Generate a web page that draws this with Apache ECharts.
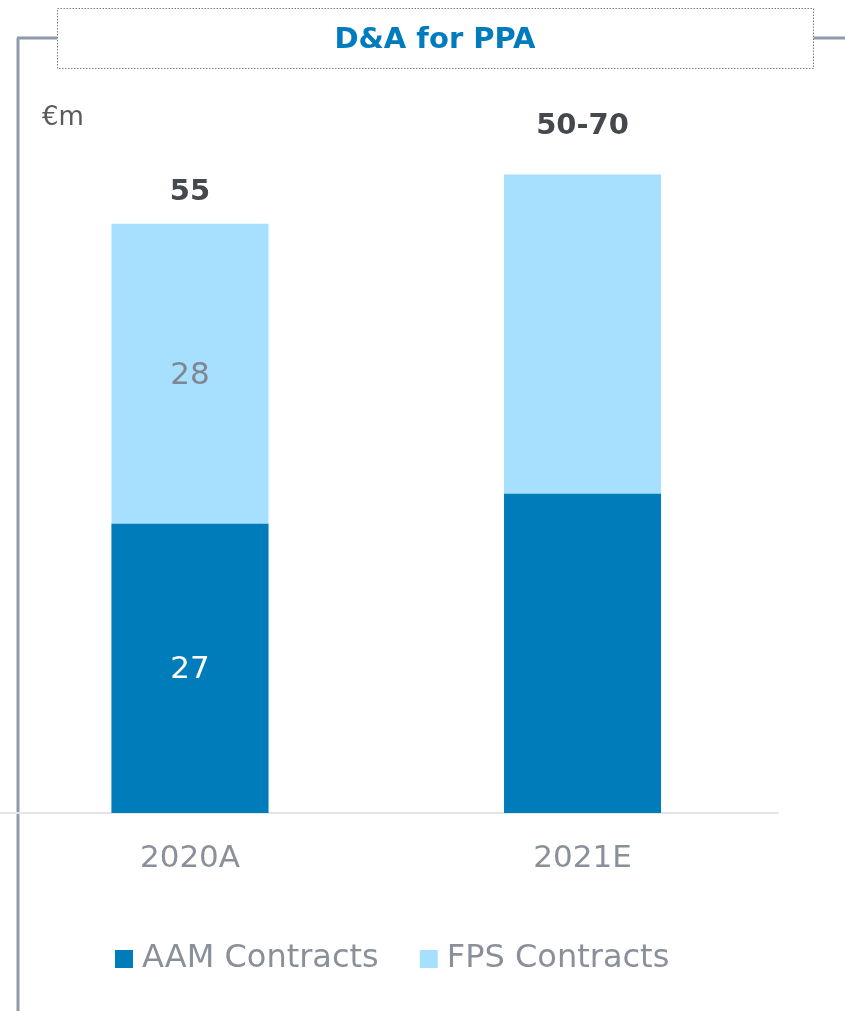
<!DOCTYPE html>
<html><head><meta charset="utf-8">
<script src="https://cdn.jsdelivr.net/npm/echarts@6/dist/echarts.min.js"></script>
<style>html,body{margin:0;padding:0;background:#fff}#c{width:845px;height:1011px}</style>
</head><body><div id="c"></div>
<script>
const categories = ['2020A', '2021E'];
const aamValues = [27, 29.8];
const fpsValues = [28, 29.8];
const aamLabels = ['27', ''];
const fpsLabels = ['28', ''];
const topLabels = ['55', '50-70'];
const totals = aamValues.map((v, i) => v + fpsValues[i]);
const topOffsets = [-31, -48];

const chart = echarts.init(document.getElementById('c'));
const F = 'DejaVu Sans, Verdana, sans-serif';
chart.setOption({
  animation: false,
  textStyle: { fontFamily: F },
  graphic: [
    { type: 'line', shape: { x1: 18, y1: 38, x2: 18, y2: 1011 }, style: { stroke: '#8e9aab', lineWidth: 3 } },
    { type: 'line', shape: { x1: 17, y1: 38, x2: 57, y2: 38 }, style: { stroke: '#8e9aab', lineWidth: 3 } },
    { type: 'line', shape: { x1: 813, y1: 38, x2: 845, y2: 38 }, style: { stroke: '#8e9aab', lineWidth: 3 } },
    { type: 'rect', shape: { x: 57.5, y: 8.5, width: 756, height: 60 }, style: { fill: '#fff', stroke: '#7a7f88', lineWidth: 1, lineDash: [1.5, 1.5] } },
    { type: 'text', x: 435, y: 40, style: { text: 'D&A for PPA', fill: '#007bbd', font: 'bold 29px ' + F, align: 'center', verticalAlign: 'middle' } },
    { type: 'text', x: 42, y: 118, style: { text: '€m', fill: '#5a5a5a', font: '26px ' + F, align: 'left', verticalAlign: 'middle' } }
  ],
  legend: {
    left: 115, top: 943, padding: 0, itemWidth: 18, itemHeight: 18, itemGap: 41,
    icon: 'rect',
    textStyle: { color: '#8a9099', fontSize: 32, fontFamily: F, padding: [0, 0, 0, 4] },
    data: ['AAM Contracts', 'FPS Contracts']
  },
  grid: { left: 0, width: 778, top: 63, height: 750 },
  xAxis: {
    type: 'value', min: -0.484, max: 1.498,
    splitLine: { show: false },
    axisLine: { show: true, onZero: false, lineStyle: { color: '#e2e4e6', width: 2 } },
    axisTick: { show: false },
    axisLabel: { color: '#8a9099', fontSize: 31, fontFamily: F, margin: 30,
      customValues: categories.map((c, i) => i),
      formatter: v => categories[Math.round(v)] }
  },
  yAxis: { type: 'value', min: 0, max: 70, show: false, splitLine: { show: false } },
  series: [
    {
      // FPS segment sits on top of AAM: drawn from 0 to the running total, AAM drawn over it
      name: 'FPS Contracts', type: 'bar', barWidth: 157, barGap: '-100%', z: 2,
      data: totals.map((t, i) => [i, t]),
      itemStyle: { color: '#a6e0fe' }
    },
    {
      name: 'AAM Contracts', type: 'bar', barWidth: 157, barGap: '-100%', z: 3,
      data: aamValues.map((v, i) => [i, v]),
      itemStyle: { color: '#007cba' },
      label: { show: true, position: 'inside', offset: [0, 2], color: '#fff', fontSize: 31, fontFamily: F,
        formatter: p => aamLabels[p.dataIndex] }
    },
    {
      type: 'scatter', symbolSize: 0, silent: true, z: 5,
      itemStyle: { opacity: 1 },
      data: fpsValues.map((v, i) => [i, aamValues[i] + v / 2]),
      label: { show: true, position: 'inside', offset: [0, 2], color: '#7f8691', fontSize: 31, fontFamily: F,
        formatter: p => fpsLabels[p.dataIndex] }
    },
    {
      type: 'scatter', symbolSize: 0, silent: true, z: 5,
      itemStyle: { opacity: 1 },
      data: totals.map((t, i) => ({ value: [i, t], label: { offset: [0, topOffsets[i]] } })),
      label: { show: true, position: 'inside', color: '#45484d', fontWeight: 'bold', fontSize: 29, fontFamily: F,
        formatter: p => topLabels[p.dataIndex] }
    }
  ]
});
</script></body></html>
